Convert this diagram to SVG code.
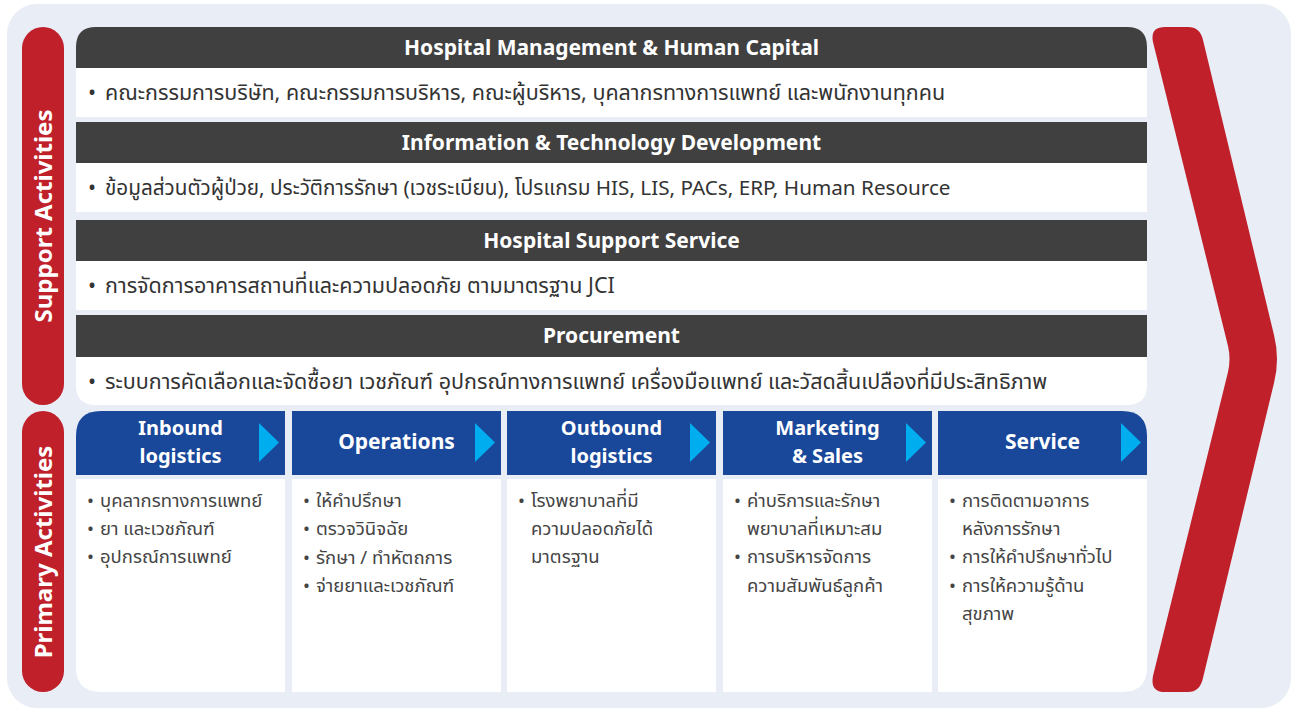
<svg xmlns="http://www.w3.org/2000/svg" width="1293" height="709" viewBox="0 0 1293 709">
<style>
.bg{fill:#e8edf6}
.pill{fill:#c0202a}
.dark{fill:#404040}
.row{fill:#ffffff}
.blue{fill:#19479a}
.tri{fill:#00aeef}
.title{font-family:"Noto Sans","Open Sans",sans-serif;font-weight:bold;font-size:21px;fill:#ffffff;text-anchor:middle}
.side{font-family:"Noto Sans","Open Sans",sans-serif;font-weight:bold;font-size:24px;fill:#ffffff;text-anchor:middle}
.body{font-family:"Noto Sans","Noto Sans Thai","Open Sans",sans-serif;font-size:21.5px;fill:#333333}
.ph{font-family:"Noto Sans","Open Sans",sans-serif;font-weight:bold;font-size:20px;fill:#ffffff;text-anchor:middle}
.pt{font-family:"Noto Sans","Noto Sans Thai","Open Sans",sans-serif;font-size:18.5px;fill:#444444}
</style>
<rect class="bg" x="7" y="4" width="1284" height="704" rx="30"/>

<g id="support-label">
<rect class="pill" x="22" y="27" width="42" height="378" rx="21"/>
<text class="side" transform="translate(52,216) rotate(-90)">Support Activities</text>
</g>
<g id="primary-label">
<rect class="pill" x="22" y="411" width="42" height="281" rx="21"/>
<text class="side" transform="translate(52,552) rotate(-90)">Primary Activities</text>
</g>

<g id="hospital-management">
<path class="dark" d="M76,68 V47 Q76,27 96,27 H1127 Q1147,27 1147,47 V68 Z"/>
<text class="title" x="611.5" y="55">Hospital Management &amp; Human Capital</text>
<rect class="row" x="76" y="68" width="1071" height="49"/>
<text class="body" x="88" y="100">•</text>
<text class="body" x="105" y="100">คณะกรรมการบริษัท, คณะกรรมการบริหาร, คณะผู้บริหาร, บุคลากรทางการแพทย์ และพนักงานทุกคน</text>
</g>
<g id="it-development">
<rect class="dark" x="76" y="122" width="1071" height="41"/>
<text class="title" x="611.5" y="150">Information &amp; Technology Development</text>
<rect class="row" x="76" y="163" width="1071" height="49"/>
<text class="body" x="88" y="195">•</text>
<text class="body" x="105" y="195" style="font-size:20.7px">ข้อมูลส่วนตัวผู้ป่วย, ประวัติการรักษา (เวชระเบียน), โปรแกรม HIS, LIS, PACs, ERP, Human Resource</text>
</g>
<g id="support-service">
<rect class="dark" x="76" y="220" width="1071" height="41"/>
<text class="title" x="611.5" y="248">Hospital Support Service</text>
<rect class="row" x="76" y="261" width="1071" height="49"/>
<text class="body" x="88" y="293">•</text>
<text class="body" x="105" y="293">การจัดการอาคารสถานที่และความปลอดภัย ตามมาตรฐาน JCI</text>
</g>
<g id="procurement">
<rect class="dark" x="76" y="315" width="1071" height="42"/>
<text class="title" x="611.5" y="343">Procurement</text>
<path class="row" d="M76,357 H1147 V385 Q1147,405 1127,405 H96 Q76,405 76,385 Z"/>
<text class="body" x="88" y="389">•</text>
<text class="body" x="105" y="389">ระบบการคัดเลือกและจัดซื้อยา เวชภัณฑ์ อุปกรณ์ทางการแพทย์ เครื่องมือแพทย์ และวัสดสิ้นเปลืองที่มีประสิทธิภาพ</text>
</g>

<g id="inbound">
<path class="blue" d="M76,475 V436 Q76,411 101,411 H285 V475 Z"/>
<polygon class="tri" points="259,423 279,442.5 259,462"/>
<text class="ph"><tspan x="180.5" y="435">Inbound</tspan><tspan x="180.5" y="463">logistics</tspan></text>
<path class="row" d="M76,479 H285 V692 H101 Q76,692 76,667 Z"/>
<text class="pt" x="87" y="507">•</text><text class="pt" x="100" y="507">บุคลากรทางการแพทย์</text>
<text class="pt" x="87" y="535">•</text><text class="pt" x="100" y="535">ยา และเวชภัณฑ์</text>
<text class="pt" x="87" y="563">•</text><text class="pt" x="100" y="563">อุปกรณ์การแพทย์</text>
</g>
<g id="operations">
<rect class="blue" x="292" y="411" width="209" height="64"/>
<polygon class="tri" points="475,423 495,442.5 475,462"/>
<text class="ph" x="396.5" y="449" style="font-size:21px">Operations</text>
<rect class="row" x="292" y="479" width="209" height="213"/>
<text class="pt" x="303" y="507">•</text><text class="pt" x="316" y="507">ให้คำปรึกษา</text>
<text class="pt" x="303" y="535">•</text><text class="pt" x="316" y="535">ตรวจวินิจฉัย</text>
<text class="pt" x="303" y="564">•</text><text class="pt" x="316" y="564">รักษา / ทำหัตถการ</text>
<text class="pt" x="303" y="592">•</text><text class="pt" x="316" y="592">จ่ายยาและเวชภัณฑ์</text>
</g>
<g id="outbound">
<rect class="blue" x="507" y="411" width="209" height="64"/>
<polygon class="tri" points="690,423 710,442.5 690,462"/>
<text class="ph"><tspan x="611.5" y="435">Outbound</tspan><tspan x="611.5" y="463">logistics</tspan></text>
<rect class="row" x="507" y="479" width="209" height="213"/>
<text class="pt" x="518" y="507">•</text>
<text class="pt"><tspan x="531" y="507">โรงพยาบาลที่มี</tspan><tspan x="531" y="535">ความปลอดภัยได้</tspan><tspan x="531" y="563">มาตรฐาน</tspan></text>
</g>
<g id="marketing">
<rect class="blue" x="723" y="411" width="209" height="64"/>
<polygon class="tri" points="906,423 926,442.5 906,462"/>
<text class="ph"><tspan x="827.5" y="435">Marketing</tspan><tspan x="827.5" y="463">&amp; Sales</tspan></text>
<rect class="row" x="723" y="479" width="209" height="213"/>
<text class="pt" x="734" y="507">•</text>
<text class="pt"><tspan x="747" y="507">ค่าบริการและรักษา</tspan><tspan x="747" y="535">พยาบาลที่เหมาะสม</tspan></text>
<text class="pt" x="734" y="563">•</text>
<text class="pt"><tspan x="747" y="563">การบริหารจัดการ</tspan><tspan x="747" y="592">ความสัมพันธ์ลูกค้า</tspan></text>
</g>
<g id="service">
<path class="blue" d="M938,411 H1122 Q1147,411 1147,436 V475 H938 Z"/>
<polygon class="tri" points="1121,423 1141,442.5 1121,462"/>
<text class="ph" x="1042.5" y="449" style="font-size:21px">Service</text>
<path class="row" d="M938,479 H1147 V667 Q1147,692 1122,692 H938 Z"/>
<text class="pt" x="949" y="507">•</text>
<text class="pt"><tspan x="962" y="507">การติดตามอาการ</tspan><tspan x="962" y="535">หลังการรักษา</tspan></text>
<text class="pt" x="949" y="563">•</text><text class="pt" x="962" y="563">การให้คำปรึกษาทั่วไป</text>
<text class="pt" x="949" y="592">•</text>
<text class="pt"><tspan x="962" y="592">การให้ความรู้ด้าน</tspan><tspan x="962" y="620">สุขภาพ</tspan></text>
</g>

<g id="chevron">
<path class="pill" d="M1153,42 Q1150,27 1165,27 H1188 Q1200,27 1203,40 L1274,335 Q1280,359 1274,383 L1203,678 Q1200,692 1188,692 H1165 Q1150,692 1153,676 L1228,372 Q1231,359 1228,346 Z"/>
</g>
<g id="connectors"></g>
</svg>
